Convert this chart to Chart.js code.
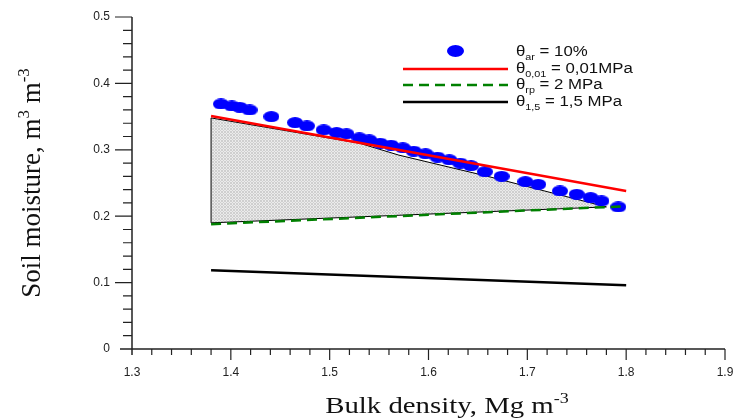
<!DOCTYPE html>
<html>
<head>
<meta charset="utf-8">
<script src="https://cdn.jsdelivr.net/npm/chart.js@4"></script>
<style>
  html, body { margin: 0; padding: 0; background: #fff; }
  #wrap { width: 734px; height: 418px; }
</style>
</head>
<body>
<div id="wrap"><canvas id="myChart" width="734" height="418"></canvas></div>
<script>
// values
const xTicks = [1.3, 1.4, 1.5, 1.6, 1.7, 1.8, 1.9];
const yTicks = [0, 0.1, 0.2, 0.3, 0.4, 0.5];

// blue dots (theta_ar = 10%)
const dotDensity = [1.390, 1.401, 1.409, 1.419, 1.441, 1.465, 1.477, 1.494, 1.507, 1.517,
  1.530, 1.540, 1.551, 1.562, 1.574, 1.585, 1.597, 1.609, 1.621, 1.632,
  1.643, 1.657, 1.674, 1.698, 1.711, 1.733, 1.750, 1.764, 1.775, 1.792];
const dotMoisture = [0.369, 0.366, 0.364, 0.360, 0.350, 0.341, 0.336, 0.330, 0.326, 0.324,
  0.318, 0.315, 0.310, 0.307, 0.303, 0.298, 0.294, 0.289, 0.285, 0.280,
  0.276, 0.267, 0.260, 0.252, 0.248, 0.238, 0.233, 0.228, 0.223, 0.214];

// red line theta 0,01
const redDensity = [1.38, 1.8];
const redMoisture = [0.351, 0.238];
// green dashed theta rp
const greenDensity = [1.38, 1.8];
const greenMoisture = [0.188, 0.215];
// black line theta 1,5
const wiltDensity = [1.38, 1.8];
const wiltMoisture = [0.1185, 0.096];
// shaded area outline
const areaDensity = [1.38, 1.38, 1.53, 1.57, 1.66, 1.78, 1.38];
const areaMoisture = [0.19, 0.348, 0.310, 0.292, 0.260, 0.214, 0.19];

const toPts = (xs, ys) => xs.map((x, i) => ({ x: x, y: ys[i] }));

// grey stipple for the area
function makePattern() {
  const c = document.createElement("canvas");
  c.width = 3; c.height = 3;
  const g = c.getContext("2d");
  g.fillStyle = "#ebebeb"; g.fillRect(0, 0, 3, 3);
  g.fillStyle = "#cfcfcf";
  g.fillRect(0, 0, 1, 1); g.fillRect(1, 1, 1, 1); g.fillRect(2, 2, 1, 1);
  g.fillRect(2, 0, 1, 1); g.fillRect(0, 2, 1, 1);
  return g.createPattern(c, "repeat");
}

// blue ellipse marker
function makeDot(w, h) {
  const c = document.createElement("canvas");
  c.width = w; c.height = h;
  const g = c.getContext("2d");
  g.fillStyle = "#0000ff";
  g.beginPath();
  g.ellipse(w / 2, h / 2, w / 2, h / 2, 0, 0, Math.PI * 2);
  g.fill();
  return c;
}

function drawParts(ctx, x, y, parts, size, family, sx) {
  // parts: [text, mode] mode: 0 normal, 1 sup, -1 sub
  let cx = 0;
  ctx.save();
  ctx.translate(x, y);
  ctx.scale(sx, 1);
  ctx.textBaseline = "alphabetic";
  ctx.textAlign = "left";
  parts.forEach(([t, mode]) => {
    const fs = mode === 0 ? size : Math.round(size * 0.62);
    ctx.font = fs + "px " + family;
    const dy = mode === 1 ? -size * 0.4 : mode === -1 ? size * 0.3 : 0;
    ctx.fillText(t, cx, dy);
    cx += ctx.measureText(t).width;
  });
  ctx.restore();
  return cx * sx;
}

function partsWidth(ctx, parts, size, family) {
  let w = 0;
  parts.forEach(([t, mode]) => {
    const fs = mode === 0 ? size : Math.round(size * 0.62);
    ctx.font = fs + "px " + family;
    w += ctx.measureText(t).width;
  });
  return w;
}

const axesPlugin = {
  id: "axesPlugin",
  afterDraw(chart) {
    const ctx = chart.ctx;
    const xs = chart.scales.x, ys = chart.scales.y;
    const x0 = xs.getPixelForValue(1.3), x1 = xs.getPixelForValue(1.9);
    const y0 = ys.getPixelForValue(0), y1 = ys.getPixelForValue(0.5);
    ctx.save();
    ctx.strokeStyle = "#222";
    ctx.lineWidth = 1.5;
    ctx.beginPath();
    ctx.moveTo(x0, y1); ctx.lineTo(x0, y0 + 6);
    ctx.moveTo(x0 - 12, y0); ctx.lineTo(x1, y0);
    ctx.stroke();
    ctx.lineWidth = 1.2;
    ctx.beginPath();
    for (let i = 1; i <= 25; i++) {
      const py = ys.getPixelForValue(i * 0.02);
      const len = i % 5 === 0 ? 17 : 9;
      ctx.moveTo(x0 - len, py); ctx.lineTo(x0, py);
    }
    for (let i = 1; i <= 30; i++) {
      const px = xs.getPixelForValue(1.3 + i * 0.02);
      const len = i % 5 === 0 ? 11 : 6;
      ctx.moveTo(px, y0); ctx.lineTo(px, y0 + len);
    }
    ctx.stroke();

    // axis titles
    ctx.fillStyle = "#111";
    const serif = "'Liberation Serif', 'Times New Roman', serif";
    const xt = [["Bulk density, Mg m", 0], ["-3", 1]];
    const xw = partsWidth(ctx, xt, 24, serif) * 1.2;
    drawParts(ctx, 447 - xw / 2, 413, xt, 24, serif, 1.2);

    const yt = [["Soil moisture, m", 0], ["3", 1], [" m", 0], ["-3", 1]];
    const yw = partsWidth(ctx, yt, 27, serif);
    ctx.save();
    ctx.translate(40, (y0 + y1) / 2 + yw / 2);
    ctx.rotate(-Math.PI / 2);
    drawParts(ctx, 0, 0, yt, 27, serif, 1);
    ctx.restore();

    // legend
    const sans = "'Liberation Sans', Arial, sans-serif";
    ctx.drawImage(makeDot(17, 12), 447, 45);
    ctx.lineWidth = 2.5;
    ctx.strokeStyle = "#ff0000";
    ctx.beginPath(); ctx.moveTo(403, 69); ctx.lineTo(508, 69); ctx.stroke();
    ctx.strokeStyle = "#008000";
    ctx.setLineDash([10, 6]);
    ctx.beginPath(); ctx.moveTo(403, 85); ctx.lineTo(508, 85); ctx.stroke();
    ctx.setLineDash([]);
    ctx.strokeStyle = "#000";
    ctx.beginPath(); ctx.moveTo(403, 102); ctx.lineTo(508, 102); ctx.stroke();

    ctx.fillStyle = "#111";
    const rows = [
      { y: 56, parts: [["θ", 0], ["ar", -1], [" = 10%", 0]] },
      { y: 73, parts: [["θ", 0], ["0,01", -1], [" = 0,01MPa", 0]] },
      { y: 89, parts: [["θ", 0], ["rp", -1], [" = 2 MPa", 0]] },
      { y: 106, parts: [["θ", 0], ["1,5", -1], [" = 1,5 MPa", 0]] }
    ];
    rows.forEach(r => drawParts(ctx, 516, r.y, r.parts, 14, sans, 1.2));
    ctx.restore();
  }
};

const dotImg = makeDot(16, 11);

new Chart("myChart", {
  type: "scatter",
  data: {
    datasets: [
      {
        label: "area",
        data: toPts(areaDensity, areaMoisture),
        showLine: true,
        fill: "shape",
        backgroundColor: makePattern(),
        borderColor: "#000",
        borderWidth: 1,
        pointRadius: 0,
        tension: 0,
        order: 6
      },
      {
        label: "θar = 10%",
        data: toPts(dotDensity, dotMoisture),
        pointStyle: dotImg,
        order: 5
      },
      {
        label: "θ1,5 = 1,5 MPa",
        data: toPts(wiltDensity, wiltMoisture),
        showLine: true,
        borderColor: "#000",
        borderWidth: 2.5,
        pointRadius: 0,
        order: 3
      },
      {
        label: "θrp = 2 MPa",
        data: toPts(greenDensity, greenMoisture),
        showLine: true,
        borderColor: "#008000",
        borderDash: [10, 6],
        borderWidth: 2.5,
        pointRadius: 0,
        order: 2
      },
      {
        label: "θ0,01 = 0,01MPa",
        data: toPts(redDensity, redMoisture),
        showLine: true,
        borderColor: "#ff0000",
        borderWidth: 2.5,
        pointRadius: 0,
        order: 1
      }
    ]
  },
  options: {
    responsive: false,
    animation: false,
    layout: { padding: { top: 17, right: 9, left: 0, bottom: 0 } },
    plugins: { legend: { display: false }, tooltip: { enabled: false } },
    scales: {
      x: {
        type: "linear",
        min: 1.3,
        max: 1.9,
        afterBuildTicks: (s) => { s.ticks = xTicks.map(v => ({ value: v })); },
        afterFit: (s) => { s.height = 69; s.paddingLeft = 0; s.paddingRight = 0; },
        grid: { display: false, drawTicks: false },
        border: { display: false },
        ticks: {
          padding: 16,
          color: "#222",
          font: { family: "'Liberation Sans', Arial, sans-serif", size: 12 },
          callback: (v) => Number(v).toFixed(1)
        }
      },
      y: {
        type: "linear",
        min: 0,
        max: 0.5,
        afterBuildTicks: (s) => { s.ticks = yTicks.map(v => ({ value: v })); },
        afterFit: (s) => { s.width = 132; s.paddingTop = 0; s.paddingBottom = 0; },
        grid: { display: false, drawTicks: false },
        border: { display: false },
        ticks: {
          padding: 22,
          color: "#222",
          font: { family: "'Liberation Sans', Arial, sans-serif", size: 12 },
          callback: (v) => String(Math.round(v * 10) / 10)
        }
      }
    }
  },
  plugins: [axesPlugin]
});
</script>
</body>
</html>
